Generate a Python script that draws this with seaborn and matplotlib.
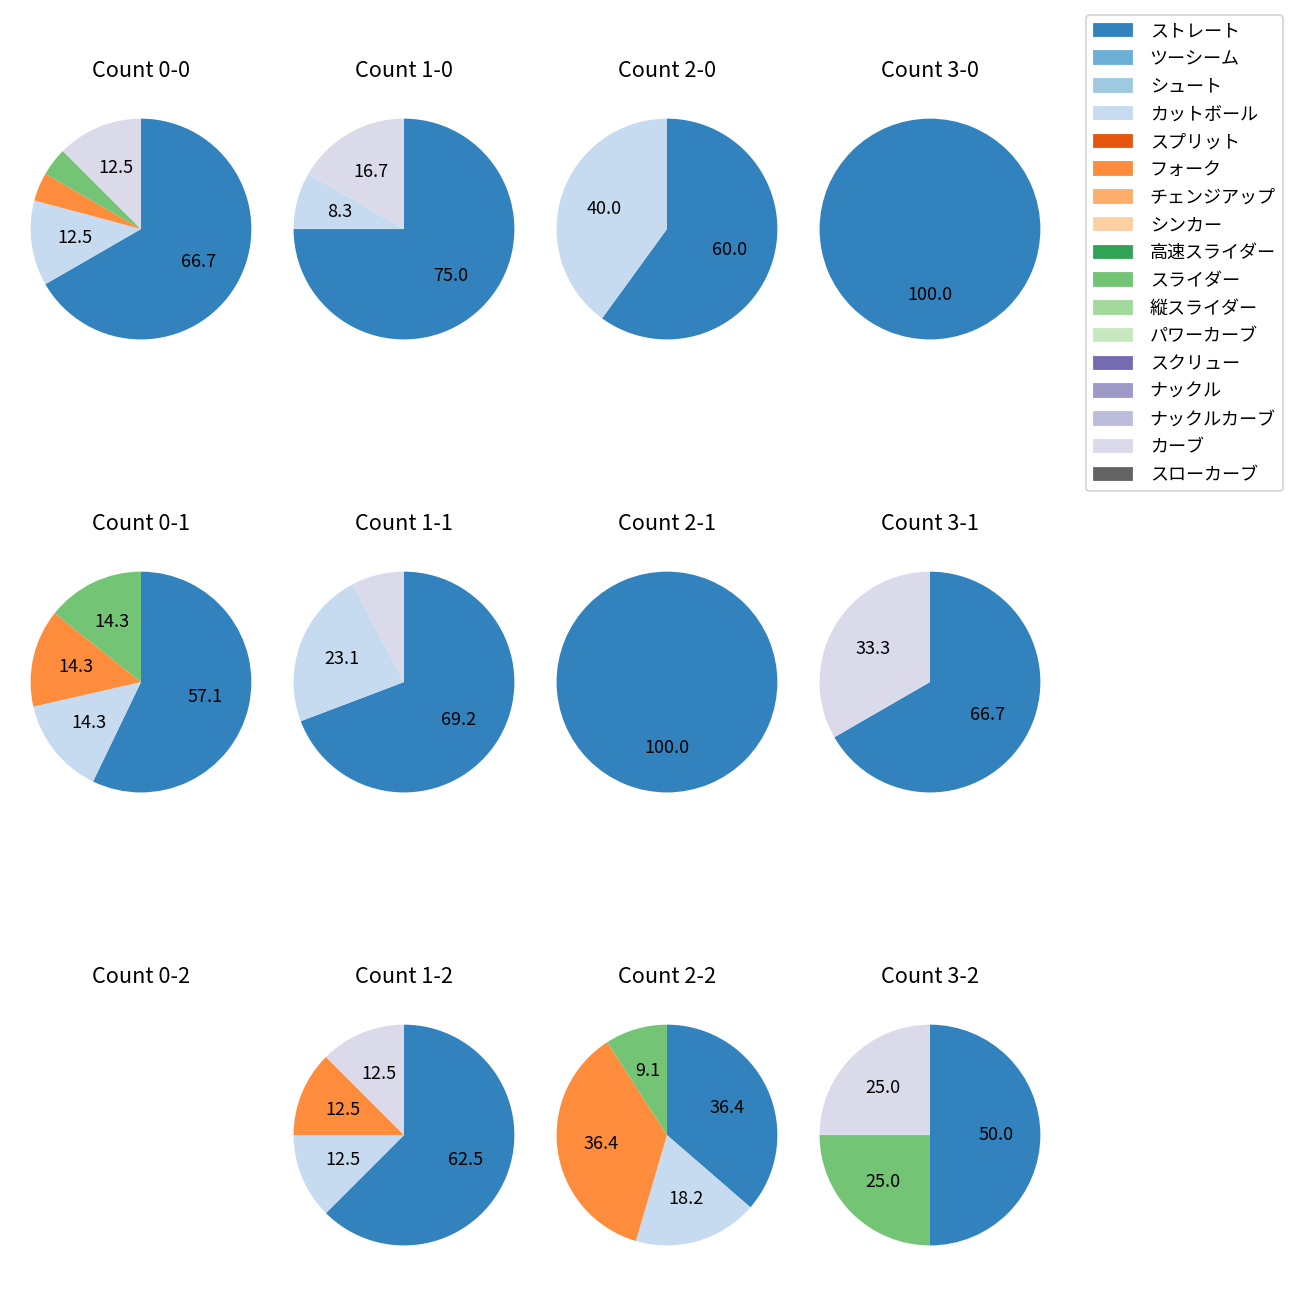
import matplotlib
matplotlib.use("Agg")
import matplotlib.pyplot as plt
from matplotlib.patches import Patch
import seaborn as sns

plt.rcParams['font.family'] = ['Noto Sans CJK JP', 'DejaVu Sans']

pitch_types = ["ストレート", "ツーシーム", "シュート", "カットボール", "スプリット", "フォーク",
               "チェンジアップ", "シンカー", "高速スライダー", "スライダー", "縦スライダー",
               "パワーカーブ", "スクリュー", "ナックル", "ナックルカーブ", "カーブ", "スローカーブ"]

# pitch counts per ball-strike count, order follows pitch_types
count_0_0 = [16, 0, 0, 3, 0, 1, 0, 0, 0, 1, 0, 0, 0, 0, 0, 3, 0]
count_1_0 = [9, 0, 0, 1, 0, 0, 0, 0, 0, 0, 0, 0, 0, 0, 0, 2, 0]
count_2_0 = [3, 0, 0, 2, 0, 0, 0, 0, 0, 0, 0, 0, 0, 0, 0, 0, 0]
count_3_0 = [1, 0, 0, 0, 0, 0, 0, 0, 0, 0, 0, 0, 0, 0, 0, 0, 0]
count_0_1 = [4, 0, 0, 1, 0, 1, 0, 0, 0, 1, 0, 0, 0, 0, 0, 0, 0]
count_1_1 = [9, 0, 0, 3, 0, 0, 0, 0, 0, 0, 0, 0, 0, 0, 0, 1, 0]
count_2_1 = [1, 0, 0, 0, 0, 0, 0, 0, 0, 0, 0, 0, 0, 0, 0, 0, 0]
count_3_1 = [2, 0, 0, 0, 0, 0, 0, 0, 0, 0, 0, 0, 0, 0, 0, 1, 0]
count_0_2 = [0, 0, 0, 0, 0, 0, 0, 0, 0, 0, 0, 0, 0, 0, 0, 0, 0]
count_1_2 = [5, 0, 0, 1, 0, 1, 0, 0, 0, 0, 0, 0, 0, 0, 0, 1, 0]
count_2_2 = [4, 0, 0, 2, 0, 4, 0, 0, 0, 1, 0, 0, 0, 0, 0, 0, 0]
count_3_2 = [2, 0, 0, 0, 0, 0, 0, 0, 0, 1, 0, 0, 0, 0, 0, 1, 0]

count_titles = ["Count 0-0", "Count 1-0", "Count 2-0", "Count 3-0",
                "Count 0-1", "Count 1-1", "Count 2-1", "Count 3-1",
                "Count 0-2", "Count 1-2", "Count 2-2", "Count 3-2"]
count_data = [count_0_0, count_1_0, count_2_0, count_3_0,
              count_0_1, count_1_1, count_2_1, count_3_1,
              count_0_2, count_1_2, count_2_2, count_3_2]

colors = sns.color_palette("tab20c", 20)[:len(pitch_types)]

fig, axes = plt.subplots(3, 4, figsize=(10, 10), dpi=130)
fig.subplots_adjust(left=0.0023, right=0.8215, top=0.9392, bottom=0.0115,
                    wspace=-0.047, hspace=0.51)

for ax, title, vals in zip(axes.flat, count_titles, count_data):
    idx = [i for i, v in enumerate(vals) if v > 0]
    if idx:
        ax.pie([vals[i] for i in idx], colors=[colors[i] for i in idx],
               startangle=90, counterclock=False,
               autopct=lambda p: f"{p:.1f}" if p >= 8 else "")
    else:
        ax.axis("off")
        ax.set_xlim(-1.25, 1.25)
        ax.set_ylim(-1.25, 1.25)
    ax.set_aspect("equal")
    ax.set_title(title, pad=8)

handles = [Patch(color=c) for c in colors]
fig.legend(handles, pitch_types, loc="upper right", bbox_to_anchor=(0.9938, 0.9954),
           labelspacing=0.54, handletextpad=1.0, handlelength=2.1)

fig.savefig("out.png", dpi=130)
